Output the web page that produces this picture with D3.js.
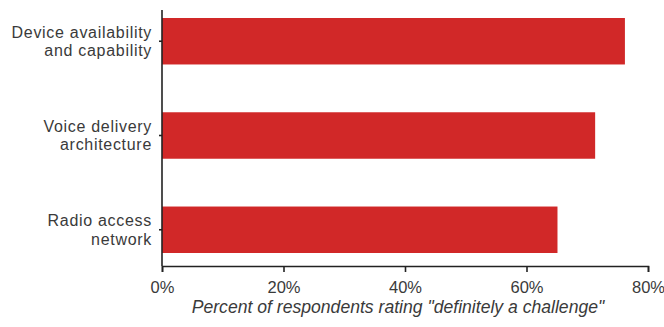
<!DOCTYPE html>
<html>
<head>
<meta charset="utf-8">
<script src="https://cdn.jsdelivr.net/npm/d3@7"></script>
<style>
  html, body { margin: 0; padding: 0; background: #fff; }
  svg { display: block; font-family: "Liberation Sans", Arial, Helvetica, sans-serif; }
</style>
</head>
<body>
<svg id="chart" width="664" height="327"></svg>
<script>
// Challenges rated "definitely a challenge" (percent of respondents)
const categories = [
  ["Device availability", "and capability"],
  ["Voice delivery", "architecture"],
  ["Radio access", "network"]
];
const values = [76.2, 71.3, 65.1];
const tickValues = [0, 20, 40, 60, 80];
const xTitle = "Percent of respondents rating \"definitely a challenge\"";

const svg = d3.select("#chart");
const plot = { left: 162, right: 648, top: 18, bottom: 253, axisY: 266, axisTop: 10 };

const x = d3.scaleLinear().domain([0, 80]).range([plot.left, plot.right]);
const y = d3.scaleBand()
  .domain(d3.range(categories.length))
  .range([plot.top, plot.bottom])
  .paddingInner(0.507)
  .paddingOuter(0);

const ink = "#222";
const textColor = "#3a3a3a";

// bars
svg.append("g")
  .selectAll("rect")
  .data(values)
  .join("rect")
  .attr("x", x(0))
  .attr("y", (d, i) => y(i))
  .attr("width", d => x(d) - x(0))
  .attr("height", y.bandwidth())
  .attr("fill", "#d12828");

// x axis
const xAxis = svg.append("g")
  .attr("transform", `translate(0,${plot.axisY})`)
  .call(d3.axisBottom(x).tickValues(tickValues).tickFormat(d => d + "%").tickSize(6).tickPadding(9));
xAxis.select(".domain").attr("stroke", ink).attr("stroke-width", 1.6);
xAxis.selectAll(".tick line").attr("stroke", ink).attr("stroke-width", 1.6);
xAxis.selectAll(".tick text")
  .attr("fill", textColor)
  .attr("font-size", 16.5)
  .attr("font-family", "\"Liberation Sans\", Arial, sans-serif");

// y axis line with small ticks at category centres
const yAxisG = svg.append("g");
yAxisG.append("line")
  .attr("x1", x(0)).attr("x2", x(0))
  .attr("y1", plot.axisTop).attr("y2", plot.axisY)
  .attr("stroke", ink).attr("stroke-width", 1.6);
yAxisG.selectAll("line.tick")
  .data(categories)
  .join("line")
  .attr("class", "tick")
  .attr("x1", x(0) - 3).attr("x2", x(0))
  .attr("y1", (d, i) => y(i) + y.bandwidth() / 2)
  .attr("y2", (d, i) => y(i) + y.bandwidth() / 2)
  .attr("stroke", ink).attr("stroke-width", 1.6);

// category labels, one text per line
const lineGap = 18.4;
svg.append("g")
  .selectAll("g")
  .data(categories)
  .join("g")
  .attr("transform", (d, i) => `translate(${x(0) - 10},${y(i) + y.bandwidth() / 2 - 3.5})`)
  .selectAll("text")
  .data(d => d)
  .join("text")
  .attr("text-anchor", "end")
  .attr("fill", textColor)
  .attr("font-size", 16)
  .attr("letter-spacing", 0.7)
  .attr("y", (d, j) => j * lineGap)
  .text(d => d);

// x axis title
svg.append("text")
  .attr("x", (x(0) + x(80)) / 2 - 7)
  .attr("y", 313)
  .attr("text-anchor", "middle")
  .attr("font-style", "italic")
  .attr("font-size", 17.6)
  .attr("fill", textColor)
  .text(xTitle);
</script>
</body>
</html>
